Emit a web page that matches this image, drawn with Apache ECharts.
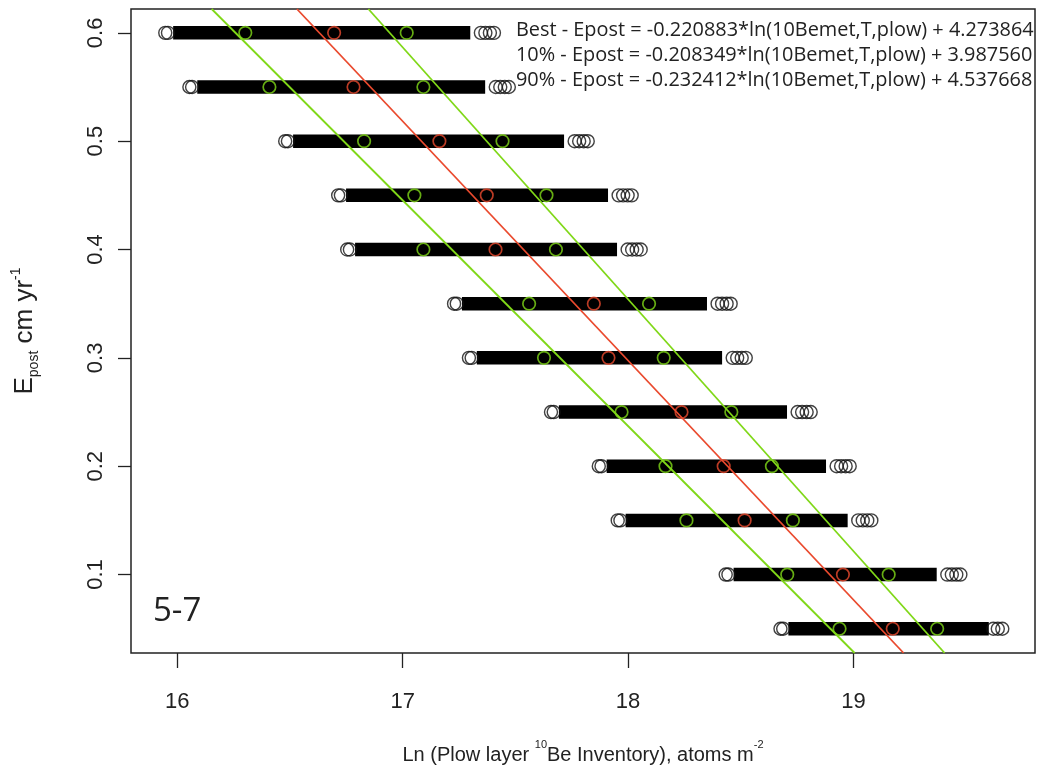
<!DOCTYPE html>
<html>
<head>
<meta charset="utf-8">
<script src="https://cdn.jsdelivr.net/npm/echarts@6.0.0/dist/echarts.min.js"></script>
<style>
  html, body { margin: 0; padding: 0; background: #fff; }
  #chart { width: 1040px; height: 778px; }
</style>
</head>
<body>
<div id="chart"></div>
<script>
// Epost levels (cm/yr), top to bottom
const levels = [0.6, 0.55, 0.5, 0.45, 0.4, 0.35, 0.3, 0.25, 0.2, 0.15, 0.1, 0.05]

// black point clouds: first circle, start/end of the dense part, last circles
const bandStart = [15.947, 16.054, 16.479, 16.714, 16.754, 17.228, 17.294, 17.658, 17.870, 17.954, 18.433, 18.676]
const bandLeft2 = [15.959, 16.066, 16.491, 16.726, 16.766, 17.240, 17.306, 17.670, 17.882, 17.966, 18.445, 18.688]
const solidStart = [15.982, 16.089, 16.514, 16.749, 16.789, 17.263, 17.329, 17.693, 17.905, 17.989, 18.468, 18.711]
const solidEnd = [17.300, 17.366, 17.716, 17.911, 17.951, 18.350, 18.417, 18.705, 18.878, 18.974, 19.369, 19.600]
const rightTail = [
  [17.347, 17.367, 17.387, 17.405],
  [17.413, 17.433, 17.453, 17.471],
  [17.763, 17.783, 17.803, 17.821],
  [17.958, 17.978, 17.998, 18.016],
  [17.998, 18.018, 18.038, 18.056],
  [18.397, 18.417, 18.437, 18.455],
  [18.464, 18.484, 18.504, 18.522],
  [18.752, 18.772, 18.792, 18.810],
  [18.925, 18.945, 18.965, 18.983],
  [19.021, 19.041, 19.061, 19.079],
  [19.416, 19.436, 19.456, 19.474],
  [19.620, 19.640, 19.660],
]

// coloured markers: best (red), 10% and 90% (green)
const bestX = [16.696, 16.782, 17.163, 17.373, 17.412, 17.848, 17.913, 18.237, 18.424, 18.517, 18.953, 19.174]
const lowX = [16.302, 16.409, 16.829, 17.052, 17.092, 17.561, 17.627, 17.971, 18.166, 18.259, 18.706, 18.938]
const highX = [17.018, 17.092, 17.443, 17.638, 17.680, 18.093, 18.158, 18.458, 18.638, 18.731, 19.156, 19.371]

// fitted lines, end points at the plot edges
const bestLine = [[16.531, 0.622], [19.222, 0.0276]]
const line10 = [[16.153, 0.622], [19.005, 0.0276]]
const line90 = [[16.848, 0.622], [19.404, 0.0276]]

const xTicks = [16, 17, 18, 19]
const yTicks = [0.1, 0.2, 0.3, 0.4, 0.5, 0.6]

const legendLines = [
  'Best - Epost = -0.220883*ln(10Bemet,T,plow) + 4.273864',
  '10% - Epost = -0.208349*ln(10Bemet,T,plow) + 3.987560',
  '90% - Epost = -0.232412*ln(10Bemet,T,plow) + 4.537668',
]

const RED = '#ea4a2e'
const GREEN = '#80d818'
const FONT = '"Liberation Sans", sans-serif'
const TXT_FONT = '"Open Sans", "Noto Sans", sans-serif'

const chart = echarts.init(document.getElementById('chart'))

// dense part of each cloud as a thick bar
const bandSeries = levels.map((y, i) => ({
  type: 'line',
  data: [[solidStart[i], y], [solidEnd[i], y]],
  symbol: 'none',
  silent: true,
  z: 2,
  lineStyle: { color: '#000', width: 13.5, cap: 'butt' },
}))

// loose circles at the ends of each cloud
const tailData = []
levels.forEach((y, i) => {
  tailData.push([bandStart[i], y], [bandLeft2[i], y])
  rightTail[i].forEach((x) => tailData.push([x, y]))
})

const ringStyle = (c, w) => ({ color: 'rgba(0,0,0,0)', borderColor: c, borderWidth: w })

const option = {
  animation: false,
  grid: {
    left: 131, right: 5, top: 9, bottom: 125,
    show: true, borderColor: '#222', borderWidth: 1.5, backgroundColor: '#fff',
  },
  xAxis: {
    type: 'value',
    min: 15.795,
    max: 19.805,
    name: '{a|Ln (Plow layer }{sup|10}{a|Be Inventory), atoms m}{sup|-2}',
    nameLocation: 'middle',
    nameGap: 86,
    nameTextStyle: {
      rich: {
        a: { fontSize: 20, fontFamily: FONT, color: '#222', lineHeight: 26, verticalAlign: 'bottom' },
        sup: { fontSize: 11, fontFamily: FONT, color: '#222', lineHeight: 26, verticalAlign: 'top' },
      },
    },
    axisLine: { show: false },
    splitLine: { show: false },
    axisTick: { show: true, inside: false, length: 15, customValues: xTicks, lineStyle: { color: '#222', width: 1.3 } },
    axisLabel: { customValues: xTicks, margin: 38, fontSize: 22, fontFamily: FONT, color: '#222' },
  },
  yAxis: {
    type: 'value',
    min: 0.0276,
    max: 0.622,
    name: '{a|E}{sub|post}{a| cm yr}{sup|-1}',
    nameLocation: 'middle',
    nameRotate: 90,
    nameGap: 90,
    nameTextStyle: {
      rich: {
        a: { fontSize: 26, fontFamily: FONT, color: '#222', lineHeight: 32, verticalAlign: 'middle' },
        sub: { fontSize: 14, fontFamily: FONT, color: '#222', lineHeight: 32, verticalAlign: 'bottom' },
        sup: { fontSize: 14, fontFamily: FONT, color: '#222', lineHeight: 32, verticalAlign: 'top' },
      },
    },
    axisLine: { show: false },
    splitLine: { show: false },
    axisTick: { show: true, inside: false, length: 13, customValues: yTicks, lineStyle: { color: '#222', width: 1.3 } },
    axisLabel: {
      customValues: yTicks, rotate: 90, margin: 24, fontSize: 22, fontFamily: FONT, color: '#222',
      formatter: (v) => v.toFixed(1),
    },
  },
  series: [
    ...bandSeries,
    {
      type: 'scatter',
      data: tailData,
      symbol: 'circle',
      symbolSize: 13,
      silent: true,
      z: 3,
      itemStyle: ringStyle('#111', 1.4),
    },
    {
      type: 'line', data: line10, symbol: 'none', silent: true, z: 4,
      lineStyle: { color: GREEN, width: 1.8 },
    },
    {
      type: 'line', data: line90, symbol: 'none', silent: true, z: 4,
      lineStyle: { color: GREEN, width: 1.8 },
    },
    {
      type: 'line', data: bestLine, symbol: 'none', silent: true, z: 4,
      lineStyle: { color: RED, width: 1.8 },
    },
    {
      type: 'scatter', data: bestX.map((x, i) => [x, levels[i]]),
      symbol: 'circle', symbolSize: 12.5, silent: true, z: 5,
      itemStyle: ringStyle(RED, 1.7),
    },
    {
      type: 'scatter', data: lowX.map((x, i) => [x, levels[i]]).concat(highX.map((x, i) => [x, levels[i]])),
      symbol: 'circle', symbolSize: 12.5, silent: true, z: 5,
      itemStyle: ringStyle(GREEN, 1.7),
    },
  ],
  graphic: [
    ...legendLines.map((t, i) => ({
      type: 'text',
      left: 516,
      top: 20 + i * 25,
      z: 10,
      style: { text: t, font: '19.9px ' + TXT_FONT, fill: '#222' },
    })),
    {
      type: 'text',
      left: 153,
      top: 595,
      z: 10,
      style: { text: '5-7', font: '33px ' + TXT_FONT, fill: '#222' },
    },
  ],
}

chart.setOption(option)
</script>
</body>
</html>
